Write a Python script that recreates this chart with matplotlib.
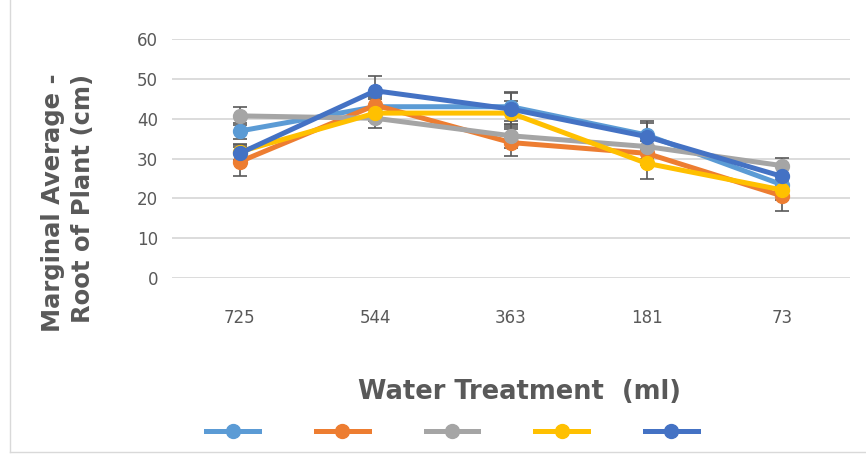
import numpy as np
import matplotlib.pyplot as plt
from matplotlib.lines import Line2D

# water treatment levels (ml) and the marginal averages of root length (cm)
treatments = ['725', '544', '363', '181', '73']
s1 = [36.9, 43.0, 43.0, 35.9, 23.4]
s2 = [29.2, 43.4, 34.0, 31.3, 20.6]
s3 = [40.7, 40.1, 35.7, 33.0, 28.2]
s4 = [31.7, 41.4, 41.4, 28.8, 22.1]
s5 = [31.3, 47.0, 42.4, 35.5, 25.5]
e1 = [2.0, 2.0, 3.5, 3.6, 2.5]
e2 = [3.7, 2.0, 3.3, 3.0, 3.8]
e3 = [2.3, 2.5, 3.0, 3.0, 2.0]
e4 = [2.0, 2.0, 3.0, 3.9, 2.5]
e5 = [2.0, 3.8, 4.4, 3.5, 3.0]

series = [s1, s2, s3, s4, s5]
errs = [e1, e2, e3, e4, e5]
colors = ['#5B9BD5', '#ED7D31', '#A5A5A5', '#FFC000', '#4472C4']
txt = '#595959'

fig = plt.figure(figsize=(8.66, 4.57), dpi=100)
ax = fig.add_axes([172/866, 1-278/457, 678/866, 239/457])

x = np.arange(len(treatments))
for vals, err, c in zip(series, errs, colors):
    ax.errorbar(x, vals, yerr=err, fmt='none', ecolor='#595959', elinewidth=1.2,
                capsize=5, capthick=1.2, zorder=2)
for vals, c in zip(series, colors):
    ax.plot(x, vals, color=c, lw=3.6, marker='o', ms=10, zorder=3,
            solid_capstyle='round')

ax.set_xlim(-0.5, 4.5)
ax.set_ylim(0, 60)
ax.set_yticks(range(0, 61, 10))
ax.set_xticks(x)
ax.set_xticklabels(treatments)
ax.yaxis.grid(True, color='#D9D9D9', lw=1.3)
ax.set_axisbelow(True)
for sp in ax.spines.values():
    sp.set_visible(False)
ax.tick_params(length=0, labelsize=12, colors=txt, pad=10)
ax.tick_params(axis='x', pad=22)

fig.text(68/866, 1-203/457, 'Marginal Average -\nRoot of Plant (cm)', rotation=90,
         ha='center', va='center', multialignment='right', fontsize=17.5,
         fontweight='bold', color=txt, linespacing=1.3)
fig.text(520/866, 1-392/457, 'Water Treatment  (ml)', ha='center', va='center',
         fontsize=18.5, fontweight='bold', color=txt)

# legend entries without labels
handles = [Line2D([0], [0], color=c, lw=3.6, marker='o', ms=10) for c in colors]
fig.legend(handles, [''] * 5, loc='center', bbox_to_anchor=(452/866, 1-432/457),
           ncol=5, frameon=False, handlelength=3.8, columnspacing=4.1,
           handletextpad=0)

# chart border
fig.add_artist(Line2D([10/866, 10/866], [5/457, 1], color='#D9D9D9', lw=1,
                      transform=fig.transFigure))
fig.add_artist(Line2D([10/866, 1], [5/457, 5/457], color='#D9D9D9', lw=1,
                      transform=fig.transFigure))

fig.savefig('out.png', dpi=100)
